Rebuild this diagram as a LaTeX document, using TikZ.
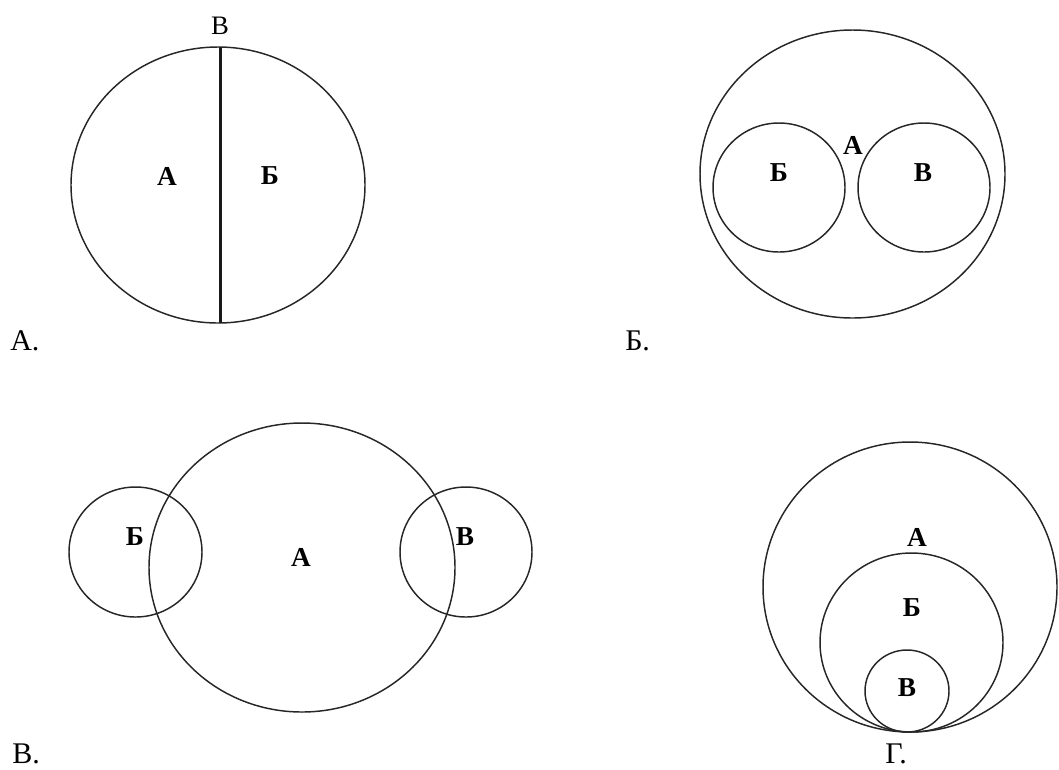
\documentclass[tikz,border=0pt]{standalone}
\usepackage{fontspec}
\setmainfont{Liberation Serif}
\begin{document}
\begin{tikzpicture}[x=0.75pt,y=-0.75pt,
  ring/.style={draw=black!85,line width=1.1pt},
  setlbl/.style={font=\fontsize{20.5}{20.5}\selectfont\bfseries,inner sep=0pt},
  panel/.style={font=\fontsize{22.5}{22.5}\selectfont,inner sep=0pt,anchor=base west}]
\path[use as bounding box] (0,0) rectangle (1059,769);
% Panel A
\draw[ring] (218,185) ellipse [x radius=147,y radius=138];
\coordinate (atop) at (220.5,47);
\coordinate (abot) at (220.5,323);
\draw[line width=2pt,black!90] (atop) -- (abot);
\node[font=\fontsize{20}{20}\selectfont,inner sep=0pt] (aV) at (220,26) {В};
\node[setlbl] (aA) at (167,176) {А};
\node[setlbl] (aB) at (270,176) {Б};
\node[panel] (pA) at (10,350) {А.};
% Panel B
\draw[ring] (852.5,174) ellipse [x radius=152.5,y radius=144];
\draw[ring] (779,187.5) ellipse [x radius=66,y radius=64.5];
\draw[ring] (924,187.5) ellipse [x radius=66,y radius=64.5];
\node[setlbl] (bA) at (853,145) {А};
\node[setlbl] (bB) at (779,173) {Б};
\node[setlbl] (bV) at (923,173) {В};
\node[panel] (pB) at (625,350) {Б.};
% Panel V
\draw[ring] (302,567.5) ellipse [x radius=153,y radius=144.5];
\draw[ring] (135.5,552) ellipse [x radius=66.5,y radius=65];
\draw[ring] (466,552) ellipse [x radius=66,y radius=65];
\node[setlbl] (cB) at (135,537) {Б};
\node[setlbl] (cA) at (301,557) {А};
\node[setlbl] (cV) at (465,537) {В};
\node[panel] (pV) at (12,763) {В.};
% Panel G
\draw[ring] (910,587) ellipse [x radius=147,y radius=145];
\draw[ring] (911.5,642.5) ellipse [x radius=91.5,y radius=89.5];
\draw[ring] (907,691) ellipse [x radius=42,y radius=41];
\node[setlbl] (dA) at (917,537) {А};
\node[setlbl] (dB) at (912,608) {Б};
\node[setlbl] (dV) at (907,688) {В};
\node[panel] (pG) at (885,763) {Г.};
\end{tikzpicture}
\end{document}
